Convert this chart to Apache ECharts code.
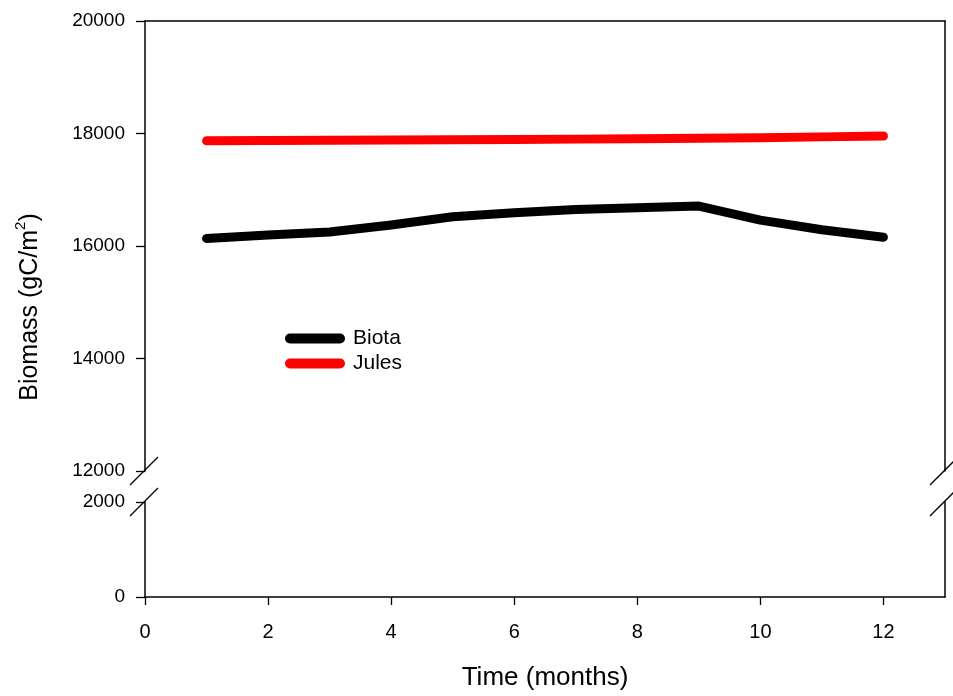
<!DOCTYPE html>
<html>
<head>
<meta charset="utf-8">
<script src="https://cdn.jsdelivr.net/npm/echarts@6/dist/echarts.min.js"></script>
<style>html,body{margin:0;padding:0;background:#fff}#c{width:953px;height:696px}</style>
</head>
<body>
<div id="c"></div>
<script>
var months = [1,2,3,4,5,6,7,8,9,10,11,12];
var biota = [16135,16195,16250,16375,16520,16590,16650,16680,16710,16460,16290,16155];
var jules = [17870,17875,17880,17885,17890,17895,17900,17905,17915,17925,17940,17955];
var xTicks = [0,2,4,6,8,10,12];
var yTopTicks = [12000,14000,16000,18000,20000];
var yBottomTicks = [0,2000];

var L = 145, R = 945, T1 = 21, B1 = 471, T2 = 502, B2 = 597, W = 953;
var font = 'Liberation Sans, Arial, sans-serif';

function pairs(xs, ys){ return xs.map(function(x,i){ return [x, ys[i]]; }); }
function plain(v){ return String(v); }

var chart = echarts.init(document.getElementById('c'), null, {renderer:'canvas'});
var axisLineStyle = {color:'#000', width:1.5};
var hiddenAxis = {axisTick:{show:false}, axisLabel:{show:false}, splitLine:{show:false}};
function slash(x, y){
  return {type:'line', shape:{x1:x-15, y1:y+14, x2:x+13, y2:y-14}, style:{stroke:'#000', lineWidth:1.3}, z:100};
}
var pill = 'path://M5,0 H55 A5,5 0 0 1 55,10 H5 A5,5 0 0 1 5,0 Z';

chart.setOption({
  animation:false,
  backgroundColor:'#fff',
  grid:[
    {left:L, right:W-R, top:T1, height:B1-T1, containLabel:false},
    {left:L, right:W-R, top:T2, height:B2-T2, containLabel:false}
  ],
  xAxis:[
    Object.assign({type:'value', gridIndex:0, min:0, max:13, position:'top',
      axisLine:{show:true, onZero:false, lineStyle:axisLineStyle}}, hiddenAxis),
    {type:'value', gridIndex:1, min:0, max:13, position:'bottom',
      axisLine:{show:true, onZero:false, lineStyle:axisLineStyle},
      axisTick:{show:true, inside:false, length:8, customValues:xTicks, lineStyle:{color:'#000', width:1.3}},
      axisLabel:{show:true, customValues:xTicks, margin:25, color:'#000', fontSize:20, fontFamily:font, formatter:plain},
      splitLine:{show:false},
      name:'Time (months)', nameLocation:'middle', nameGap:68,
      nameTextStyle:{color:'#000', fontSize:26, fontFamily:font}}
  ],
  yAxis:[
    {type:'value', gridIndex:0, min:12000, max:20000, interval:2000, position:'left',
      axisLine:{show:true, onZero:false, lineStyle:axisLineStyle},
      axisTick:{show:true, inside:false, length:9, lineStyle:{color:'#000', width:1.3}},
      axisLabel:{show:true, customValues:yTopTicks, margin:20, color:'#000', fontSize:19, fontFamily:font, formatter:plain},
      splitLine:{show:false}},
    Object.assign({type:'value', gridIndex:0, min:12000, max:20000, position:'right',
      axisLine:{show:true, onZero:false, lineStyle:axisLineStyle}}, hiddenAxis),
    {type:'value', gridIndex:1, min:0, max:2000, interval:2000, position:'left',
      axisLine:{show:true, onZero:false, lineStyle:axisLineStyle},
      axisTick:{show:true, inside:false, length:9, lineStyle:{color:'#000', width:1.3}},
      axisLabel:{show:true, customValues:yBottomTicks, margin:20, color:'#000', fontSize:19, fontFamily:font, formatter:plain},
      splitLine:{show:false}},
    Object.assign({type:'value', gridIndex:1, min:0, max:2000, position:'right',
      axisLine:{show:true, onZero:false, lineStyle:axisLineStyle}}, hiddenAxis)
  ],
  legend:{
    left:280, top:323, orient:'vertical', itemWidth:60, itemHeight:10, itemGap:4,
    textStyle:{color:'#000', fontSize:21, fontFamily:font, padding:[0,0,0,3]},
    data:[{name:'Biota', icon:pill}, {name:'Jules', icon:pill}]
  },
  series:[
    {name:'Biota', type:'line', xAxisIndex:0, yAxisIndex:0, data:pairs(months, biota),
      showSymbol:false, symbol:'none', color:'#000',
      lineStyle:{color:'#000', width:9, cap:'round', join:'round'}},
    {name:'Jules', type:'line', xAxisIndex:0, yAxisIndex:0, data:pairs(months, jules),
      showSymbol:false, symbol:'none', color:'#ff0000',
      lineStyle:{color:'#ff0000', width:9, cap:'round', join:'round'}}
  ],
  graphic:[
    slash(L, B1), slash(L, T2), slash(R, B1), slash(R, T2),
    {type:'text', x:28, y:307, rotation:Math.PI/2, z:100,
      style:{text:'{m|Biomass (gC/m}{s|2}{m|)}', fill:'#000', textAlign:'center', textVerticalAlign:'middle',
        rich:{
          m:{fontSize:25, fontFamily:font, fill:'#000', verticalAlign:'bottom', lineHeight:30},
          s:{fontSize:15, fontFamily:font, fill:'#000', verticalAlign:'top', lineHeight:30}
        }}}
  ]
});
</script>
</body>
</html>
